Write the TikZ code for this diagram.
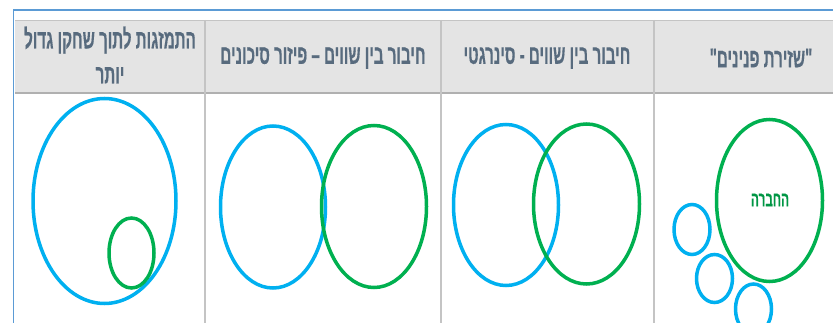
\documentclass[tikz,border=0pt]{standalone}
\usepackage{fontspec}
\setmainfont{Liberation Sans}
\newfontfamily\hebhdr[Script=Hebrew,FakeStretch=0.56,FakeBold=0.4]{Liberation Sans}
\TeXXeTstate=1
\usetikzlibrary{shapes.geometric}
\definecolor{blueC}{HTML}{00B0F0}
\definecolor{greenC}{HTML}{00B050}
\definecolor{frameC}{HTML}{5B9BD5}
\definecolor{hdrFill}{HTML}{E4E4E4}
\definecolor{hdrLine}{HTML}{C4C4C4}
\definecolor{hdrText}{HTML}{586B7E}
\tikzset{
  ring/.style={draw, ellipse, line width=3.5pt, inner sep=0pt},
  bluering/.style={ring, draw=blueC},
  greenring/.style={ring, draw=greenC},
  hdr/.style={text=hdrText, font=\hebhdr\bfseries\fontsize{27}{35}\selectfont, align=center, inner sep=0pt},
}
\begin{document}
\begin{tikzpicture}[x=1pt,y=-1pt]
\useasboundingbox (0,0) rectangle (833,323);
\fill[white] (0,0) rectangle (833,323);
% header
\fill[hdrFill] (15,20) rectangle (833,93);
\draw[hdrLine, line width=1pt] (15,20.5) -- (833,20.5);
\draw[hdrLine!90!black, line width=1.5pt] (15,93) -- (833,93);
\foreach \xx in {205,441,654} \draw[hdrLine, line width=1.3pt] (\xx,20) -- (\xx,323);
% frame
\draw[frameC, line width=1.5pt] (13.5,323) -- (13.5,10) -- (833,10);
% header texts
\node[hdr] (h1) at (110,55) {\beginR התמזגות לתוך שחקן גדול\endR\\\beginR יותר\endR};
\node[hdr] (h2) at (323,58) {\beginR חיבור בין שווים – פיזור סיכונים\endR};
\node[hdr] (h3) at (547,58) {\beginR חיבור בין שווים - סינרגטי\endR};
\node[hdr] (h4) at (761,58) {\beginR "שזירת פנינים"\endR};
% column 1
\node[bluering, minimum width=143pt, minimum height=205pt] (b1) at (104.5,201) {};
\node[greenring, minimum width=45pt, minimum height=70pt] (g1) at (131.5,253) {};
% column 2
\node[bluering, minimum width=105pt, minimum height=162pt] (b2) at (273,207) {};
\node[greenring, minimum width=105pt, minimum height=162pt] (g2) at (374,206.5) {};
% column 3
\node[bluering, minimum width=105pt, minimum height=161pt] (b3) at (506,205) {};
\node[greenring, minimum width=106pt, minimum height=160pt] (g3) at (586.5,204) {};
% column 4
\node[greenring, minimum width=106pt, minimum height=162pt] (g4) at (769.5,200.5) {};
\node[text=greenC!85!black, font=\hebhdr\bfseries\fontsize{21}{22}\selectfont, inner sep=0pt] (t4) at (770,200) {\beginR החברה\endR};
\node[bluering, minimum width=36pt, minimum height=50pt] (s1) at (692,229.5) {};
\node[bluering, minimum width=36pt, minimum height=48pt] (s2) at (714.5,278.5) {};
\node[bluering, minimum width=36pt, minimum height=50pt] (s3) at (753.5,309) {};
\end{tikzpicture}
\end{document}
